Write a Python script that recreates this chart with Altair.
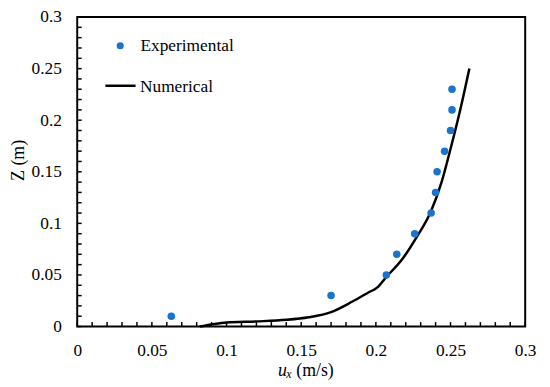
import altair as alt
import pandas as pd

# Experimental data (u_x in m/s, Z in m)
exp_x = [0.063, 0.170, 0.207, 0.214, 0.226, 0.237, 0.240, 0.241, 0.246, 0.250, 0.251, 0.251]
exp_z = [0.01, 0.03, 0.05, 0.07, 0.09, 0.11, 0.13, 0.15, 0.17, 0.19, 0.21, 0.23]

# Numerical profile
num_x = [0.082, 0.090, 0.100, 0.120, 0.140, 0.155, 0.170, 0.184, 0.195, 0.201,
         0.207, 0.218, 0.227, 0.237, 0.244, 0.2505, 0.256, 0.2626]
num_z = [0.000, 0.002, 0.004, 0.005, 0.0065, 0.009, 0.014, 0.024, 0.033, 0.038,
         0.048, 0.066, 0.086, 0.112, 0.140, 0.175, 0.207, 0.250]

major_ticks = [0, 0.05, 0.1, 0.15, 0.2, 0.25, 0.3]
minor_ticks = [0, 0.01, 0.02, 0.03, 0.04, 0.05, 0.06, 0.07, 0.08, 0.09, 0.10,
               0.11, 0.12, 0.13, 0.14, 0.15, 0.16, 0.17, 0.18, 0.19, 0.20,
               0.21, 0.22, 0.23, 0.24, 0.25, 0.26, 0.27, 0.28, 0.29, 0.30]

W, H = 453, 313
FONT = "'Liberation Serif', 'Times New Roman', Times, serif"
BLUE = "#1a73cc"

df_exp = pd.DataFrame({"x": exp_x, "y": exp_z})
df_num = pd.DataFrame({"x": num_x, "y": num_z})
df_xt = pd.DataFrame({"x": minor_ticks})
df_yt = pd.DataFrame({"y": minor_ticks})
one = pd.DataFrame({"k": [0]})

xaxis = alt.Axis(values=major_ticks, title=None, format="~g", labelFlush=False,
                 labelOverlap=False, labelPadding=15, ticks=False, tickSize=0,
                 domain=False, grid=False, labelFont=FONT, labelFontSize=17.5,
                 labelColor="black")
yaxis = alt.Axis(values=major_ticks, title=None, format="~g", labelFlush=False,
                 labelOverlap=False, labelPadding=16, ticks=False,
                 tickSize=0, domain=False, grid=False, labelFont=FONT,
                 labelFontSize=17.5, labelColor="black")
xscale = alt.Scale(domain=[0, 0.3], nice=False, zero=False)
yscale = alt.Scale(domain=[0, 0.3], nice=False, zero=False)

X = alt.X("x:Q", scale=xscale, axis=xaxis)
Y = alt.Y("y:Q", scale=yscale, axis=yaxis)

line = alt.Chart(df_num).mark_line(color="black", strokeWidth=2.5,
                                   interpolate="monotone").encode(x=X, y=Y)
pts = alt.Chart(df_exp).mark_circle(color=BLUE, size=58, opacity=1).encode(x=X, y=Y)

xt = alt.Chart(df_xt).mark_rule(color="black", strokeWidth=1.5).encode(
    x=X, y=alt.value(H), y2=alt.value(H - 4.5))
yt = alt.Chart(df_yt).mark_rule(color="black", strokeWidth=1.5).encode(
    y=Y, x=alt.value(0), x2=alt.value(4.5))

leg_pt = alt.Chart(one).mark_circle(color=BLUE, size=52, opacity=1).encode(
    x=alt.value(43.5), y=alt.value(29))
leg_t1 = alt.Chart(one).mark_text(text="Experimental", font=FONT, fontSize=17.5,
                                  align="left", baseline="alphabetic", color="black").encode(
    x=alt.value(64), y=alt.value(34.5))
leg_ln = alt.Chart(one).mark_rule(color="black", strokeWidth=2.5).encode(
    x=alt.value(28.5), x2=alt.value(59), y=alt.value(69.5))
leg_t2 = alt.Chart(one).mark_text(text="Numerical", font=FONT, fontSize=17.5,
                                  align="left", baseline="alphabetic", color="black").encode(
    x=alt.value(63.5), y=alt.value(76))

xt_u = alt.Chart(one).mark_text(text="u", font=FONT, fontSize=18, fontStyle="italic",
                                align="left", baseline="alphabetic", color="black").encode(
    x=alt.value(203), y=alt.value(363))
xt_x = alt.Chart(one).mark_text(text="x", font=FONT, fontSize=12, fontStyle="italic",
                                align="left", baseline="alphabetic", color="black").encode(
    x=alt.value(211.5), y=alt.value(365.5))
xt_r = alt.Chart(one).mark_text(text="(m/s)", font=FONT, fontSize=18,
                                align="left", baseline="alphabetic", color="black").encode(
    x=alt.value(221.5), y=alt.value(363))
yt_t = alt.Chart(one).mark_text(text="Z (m)", font=FONT, fontSize=18, angle=270,
                                align="center", baseline="alphabetic", color="black").encode(
    x=alt.value(-54), y=alt.value(145))

chart = alt.layer(line, pts, xt, yt, leg_pt, leg_t1, leg_ln, leg_t2,
                  xt_u, xt_x, xt_r, yt_t).properties(
    width=W, height=H,
    autosize=alt.AutoSizeParams(type="none"),
    padding={"left": 70, "top": 7, "right": 17, "bottom": 58},
).configure_view(stroke="black", strokeWidth=2)

chart.save("out.html", embed_options={"renderer": "svg", "actions": False})
